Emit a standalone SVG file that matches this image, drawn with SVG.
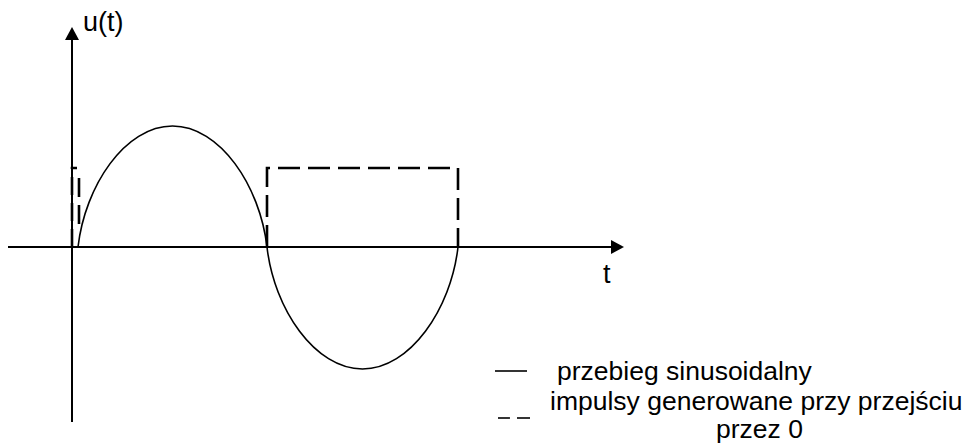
<svg xmlns="http://www.w3.org/2000/svg" width="969" height="446" viewBox="0 0 969 446">
<style>
.ax{stroke:#000;stroke-width:2;fill:none}
.sine{stroke:#000;stroke-width:1.6;fill:none}
.dash{stroke:#000;stroke-width:2.6;fill:none;stroke-dasharray:22,8}
text{font-family:"Liberation Sans",Arial,sans-serif;font-size:26.5px;fill:#000}
</style>
<g id="axes">
<line class="ax" x1="72" y1="422" x2="72" y2="38"/>
<polygon points="72,27 65,40 79,40" fill="#000"/>
<line class="ax" x1="8" y1="247" x2="612" y2="247"/>
<polygon points="624,247 611,240 611,254" fill="#000"/>
<text x="83" y="31" style="font-size:27px">u(t)</text>
<text x="603" y="283" style="font-size:27px">t</text>
</g>
<g id="sine">
<path class="sine" d="M78,247 C85,186 125,126 172.5,126 C220,126 260,186 267,247 C274,309 315,369 362.5,369 C410,369 451,309 458,247"/>
</g>
<g id="pulses">
<path class="dash" d="M72,247 L72,168 L77,168" style="stroke-dasharray:18,8"/>
<path class="dash" d="M79,178 L79,232" style="stroke-dasharray:19,8"/>
<path class="dash" d="M267,247 L267,168 L458,168 L458,247"/>
</g>
<g id="legend">
<line x1="495" y1="371" x2="527" y2="371" stroke="#000" stroke-width="1.6"/>
<text x="557" y="380">przebieg sinusoidalny</text>
<line x1="498" y1="418" x2="510" y2="418" stroke="#000" stroke-width="1.6"/>
<line x1="517" y1="418" x2="530" y2="418" stroke="#000" stroke-width="1.6"/>
<text x="550" y="410">impulsy generowane przy przejściu</text>
<text x="716" y="438">przez 0</text>
</g>
</svg>
